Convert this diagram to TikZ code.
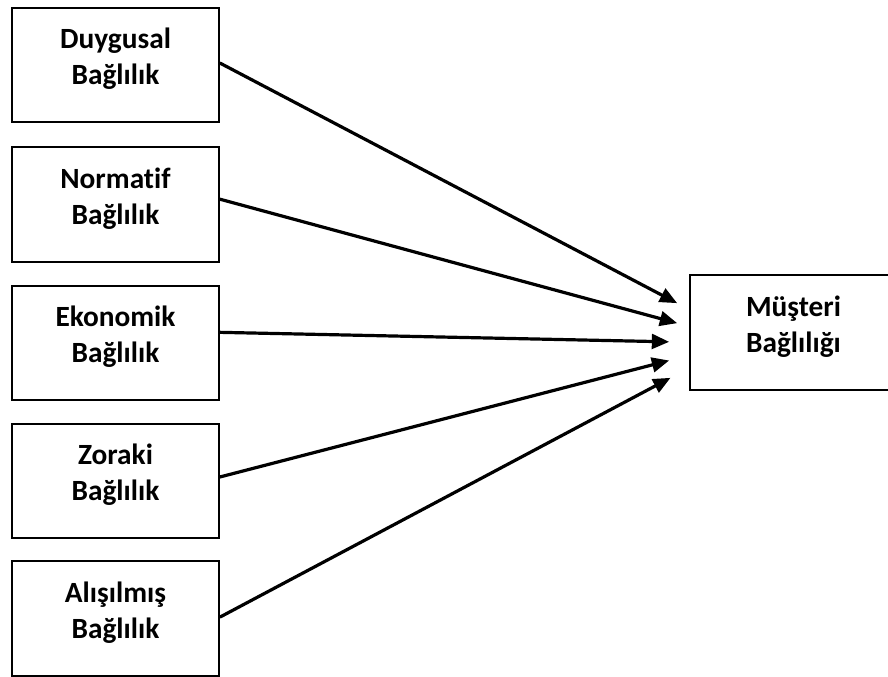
\documentclass[tikz,border=0pt]{standalone}
\usepackage{fontspec}
\setmainfont{Carlito}[Ligatures=NoCommon]
\usepackage{tikz}
\usetikzlibrary{arrows.meta,positioning}
\tikzset{font=\fontsize{22}{27}\selectfont\bfseries}
\tikzset{kutu/.style={draw, line width=1.5pt, minimum width=155pt, minimum height=86pt,
    align=center, text depth=13pt}}
\tikzset{ok/.style={line width=2.4pt, -{Triangle[length=13pt,width=11pt]}}}

\begin{document}
\begin{tikzpicture}[x=0.75pt,y=-0.75pt]
\useasboundingbox (0,0) rectangle (888,677);
\clip (0,0) rectangle (888,677);
\node[kutu] (duy) at (115.5,65) {Duygusal\\Bağlılık};
\node[kutu] (nor) at (115.5,204.5) {Normatif\\Bağlılık};
\node[kutu] (eko) at (115.5,343) {Ekonomik\\Bağlılık};
\node[kutu] (zor) at (115.5,481) {Zoraki\\Bağlılık};
\node[kutu] (ali) at (115.5,618.5) {Alışılmış\\Bağlılık};
\node[kutu] (mus) at (793.5,332.5) {Müşteri\\Bağlılığı};
% oklar
\foreach \n/\a/\b/\c in {duy/1.5/-9/22, nor/4/-9/7, eko/8/-15/-7, zor/3/-15/-21, ali/1/-14/-34}
\draw[ok] ([yshift=\a pt]\n.east) -- ([xshift=\b pt,yshift=\c pt]mus.west);
\end{tikzpicture}
\end{document}
